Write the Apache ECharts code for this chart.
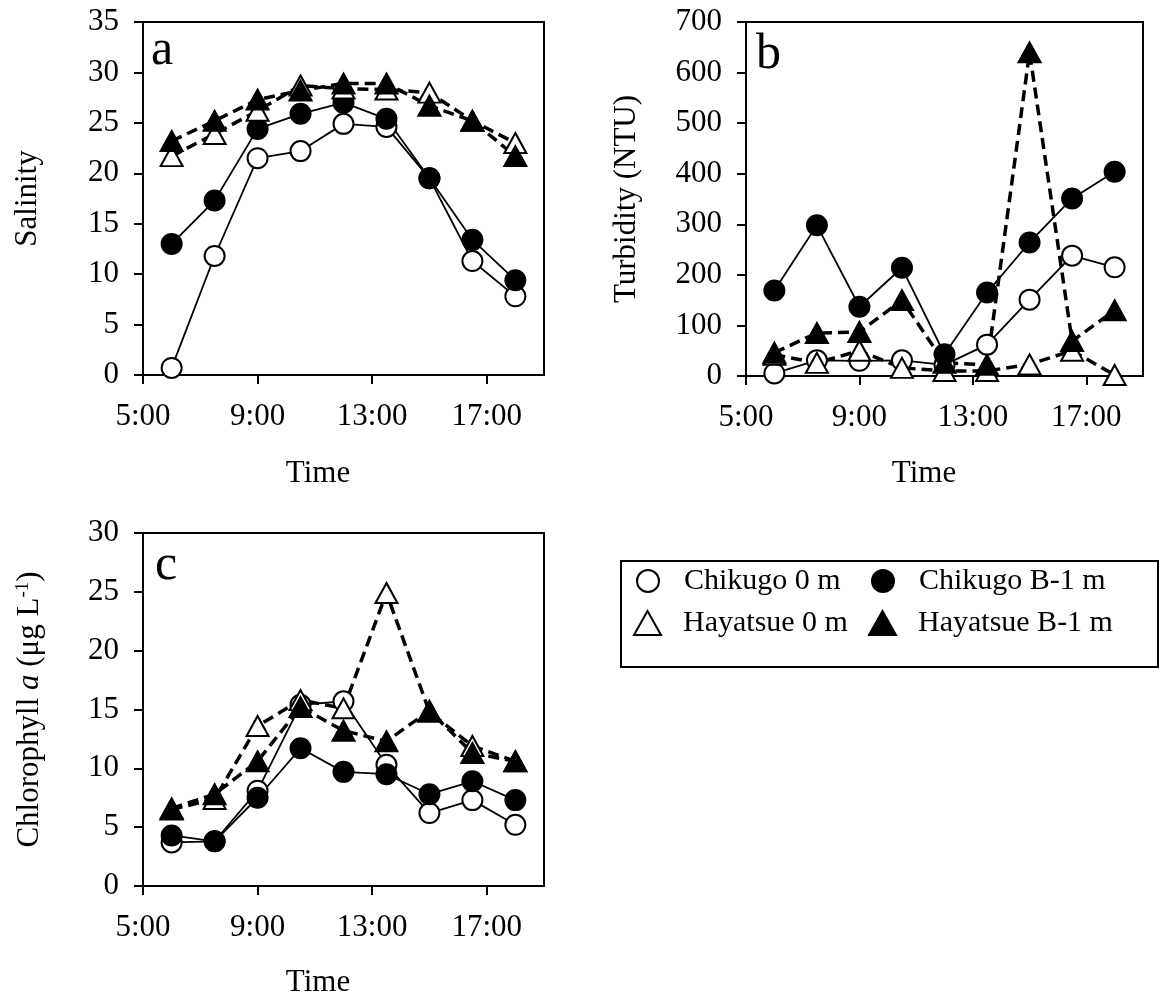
<!DOCTYPE html>
<html>
<head>
<meta charset="utf-8">
<script src="https://cdn.jsdelivr.net/npm/echarts@6/dist/echarts.min.js"></script>
<style>
  html, body { margin: 0; padding: 0; background: #fff; }
  #chart { width: 1161px; height: 996px; }
</style>
</head>
<body>
<div id="chart"></div>
<script>
// sampling times (hours)
const times = [6, 7.5, 9, 10.5, 12, 13.5, 15, 16.5, 18];
const timeTicks = [5, 9, 13, 17];

const stations = ['Chikugo 0 m', 'Chikugo B-1 m', 'Hayatsue 0 m', 'Hayatsue B-1 m'];

// a: salinity
const salChikugo0 = [0.7, 11.8, 21.5, 22.2, 24.9, 24.6, 19.5, 11.3, 7.8];
const salChikugoB1 = [13.0, 17.3, 24.4, 25.9, 27.0, 25.4, 19.5, 13.4, 9.4];
const salHayatsue0 = [21.7, 23.9, 26.2, 28.7, 28.4, 28.3, 28.0, 25.2, 23.0];
const salHayatsueB1 = [23.2, 25.2, 27.3, 28.2, 28.9, 28.9, 26.7, 25.2, 21.7];

// b: turbidity (NTU)
const turChikugo0 = [5, 31, 30, 31, 22, 62, 151, 238, 215];
const turChikugoB1 = [169, 298, 137, 214, 43, 165, 264, 351, 404];
const turHayatsue0 = [42, 26, 50, 16, 10, 10, 23, 50, 2];
const turHayatsueB1 = [46, 85, 87, 150, 26, 22, 640, 69, 130];

// c: chlorophyll a
const chlChikugo0 = [3.7, 3.8, 8.1, 15.4, 15.7, 10.3, 6.2, 7.3, 5.2];
const chlChikugoB1 = [4.3, 3.8, 7.5, 11.7, 9.7, 9.5, 7.8, 8.9, 7.3];
const chlHayatsue0 = [6.5, 7.4, 13.6, 15.8, 15.1, 24.9, 14.8, 11.9, 10.6];
const chlHayatsueB1 = [6.6, 7.8, 10.6, 15.2, 13.2, 12.3, 14.9, 11.3, 10.6];

const panels = [
  [salChikugo0, salChikugoB1, salHayatsue0, salHayatsueB1],
  [turChikugo0, turChikugoB1, turHayatsue0, turHayatsueB1],
  [chlChikugo0, chlChikugoB1, chlHayatsue0, chlHayatsueB1]
];

const FONT = '"Liberation Serif", "Times New Roman", serif';
const txt = { color: '#000', fontFamily: FONT, fontSize: 31 };

// marker styles per station
const looks = [
  { symbol: 'circle', size: 20, fill: '#fff', dashed: false },
  { symbol: 'circle', size: 20, fill: '#000', dashed: false },
  { symbol: 'triangle', size: [22, 20], fill: '#fff', dashed: true },
  { symbol: 'triangle', size: [22, 20], fill: '#000', dashed: true }
];

const chart = echarts.init(document.getElementById('chart'));

const grids = [
  { left: 143, top: 22, width: 401, height: 353 },
  { left: 746, top: 22, width: 397, height: 354 },
  { left: 143, top: 533, width: 401, height: 353 }
];

const xAxes = grids.map((g, i) => ({
  type: 'value',
  gridIndex: i,
  min: 5,
  max: 19,
  interval: 4,
  axisLine: { lineStyle: { color: '#000', width: 2 } },
  axisTick: { inside: false, length: 9, lineStyle: { color: '#000', width: 2 }, customValues: timeTicks },
  axisLabel: Object.assign({ margin: 26, customValues: timeTicks,
    formatter: v => v + ':00' }, txt),
  splitLine: { show: false }
}));

const yDefs = [
  { max: 35, interval: 5, name: 'Salinity', gap: 100 },
  { max: 700, interval: 100, name: 'Turbidity (NTU)', gap: 104 },
  { max: 30, interval: 5, name: 'Chlorophyll {i|a} (μg L{s|-1})', gap: 98 }
];

const yAxes = yDefs.map((d, i) => ({
  type: 'value',
  gridIndex: i,
  min: 0,
  max: d.max,
  interval: d.interval,
  name: d.name,
  nameLocation: 'middle',
  nameRotate: 90,
  nameGap: d.gap,
  nameTextStyle: Object.assign({
    rich: {
      i: { fontFamily: FONT, fontSize: 31, fontStyle: 'italic', color: '#000' },
      s: { fontFamily: FONT, fontSize: 19, color: '#000', verticalAlign: 'top' }
    }
  }, txt),
  axisLine: { show: true, lineStyle: { color: '#000', width: 2 } },
  axisTick: { show: true, inside: false, length: 9, lineStyle: { color: '#000', width: 2 } },
  axisLabel: Object.assign({ margin: 24 }, txt),
  splitLine: { show: false }
}));

const series = [];
panels.forEach((sets, p) => {
  sets.forEach((vals, s) => {
    const lk = looks[s];
    series.push({
      name: stations[s],
      type: 'line',
      xAxisIndex: p,
      yAxisIndex: p,
      data: times.map((t, k) => [t, vals[k]]),
      symbol: lk.symbol,
      symbolSize: lk.size,
      showAllSymbol: true,
      lineStyle: lk.dashed
        ? { color: '#000', width: 3.5, type: [11, 6] }
        : { color: '#000', width: 1.8 },
      itemStyle: { color: lk.fill, borderColor: '#000', borderWidth: 2, opacity: 1 },
      emphasis: { disabled: true },
      animation: false
    });
  });
});

// legend: one component per entry so the columns line up
const legendPos = [
  { left: 636, top: 566, w: 22, h: 22, pad: 20 },
  { left: 871, top: 566, w: 22, h: 22, pad: 20 },
  { left: 633, top: 608, w: 27, h: 24, pad: 17 },
  { left: 868, top: 608, w: 27, h: 24, pad: 17 }
];
const legends = stations.map((name, s) => ({
  data: [{
    name: name,
    icon: looks[s].symbol,
    itemStyle: { color: looks[s].fill, borderColor: '#000', borderWidth: 2 }
  }],
  left: legendPos[s].left,
  top: legendPos[s].top,
  padding: 0,
  itemWidth: legendPos[s].w,
  itemHeight: legendPos[s].h,
  symbolKeepAspect: false,
  selectedMode: false,
  textStyle: Object.assign({ padding: [0, 0, 0, legendPos[s].pad] }, txt, { fontSize: 30 })
}));

chart.setOption({
  backgroundColor: '#fff',
  animation: false,
  grid: grids.map(g => Object.assign({ show: true, borderColor: '#000', borderWidth: 2, containLabel: false }, g)),
  xAxis: xAxes,
  yAxis: yAxes,
  legend: legends,
  series: series,
  graphic: [
    { type: 'text', left: 151, top: 26, style: { text: 'a', font: '50px ' + FONT, fill: '#000' } },
    { type: 'text', left: 756, top: 30, style: { text: 'b', font: '50px ' + FONT, fill: '#000' } },
    { type: 'text', left: 155, top: 541, style: { text: 'c', font: '50px ' + FONT, fill: '#000' } },
    { type: 'text', x: 318, y: 474, style: { text: 'Time', font: '31px ' + FONT, fill: '#000', align: 'center', verticalAlign: 'middle' } },
    { type: 'text', x: 924, y: 474, style: { text: 'Time', font: '31px ' + FONT, fill: '#000', align: 'center', verticalAlign: 'middle' } },
    { type: 'text', x: 318, y: 983, style: { text: 'Time', font: '31px ' + FONT, fill: '#000', align: 'center', verticalAlign: 'middle' } },
    { type: 'rect', shape: { x: 621, y: 561, width: 537, height: 106 }, style: { fill: 'none', stroke: '#000', lineWidth: 2 }, z: -1 }
  ]
});
</script>
</body>
</html>
